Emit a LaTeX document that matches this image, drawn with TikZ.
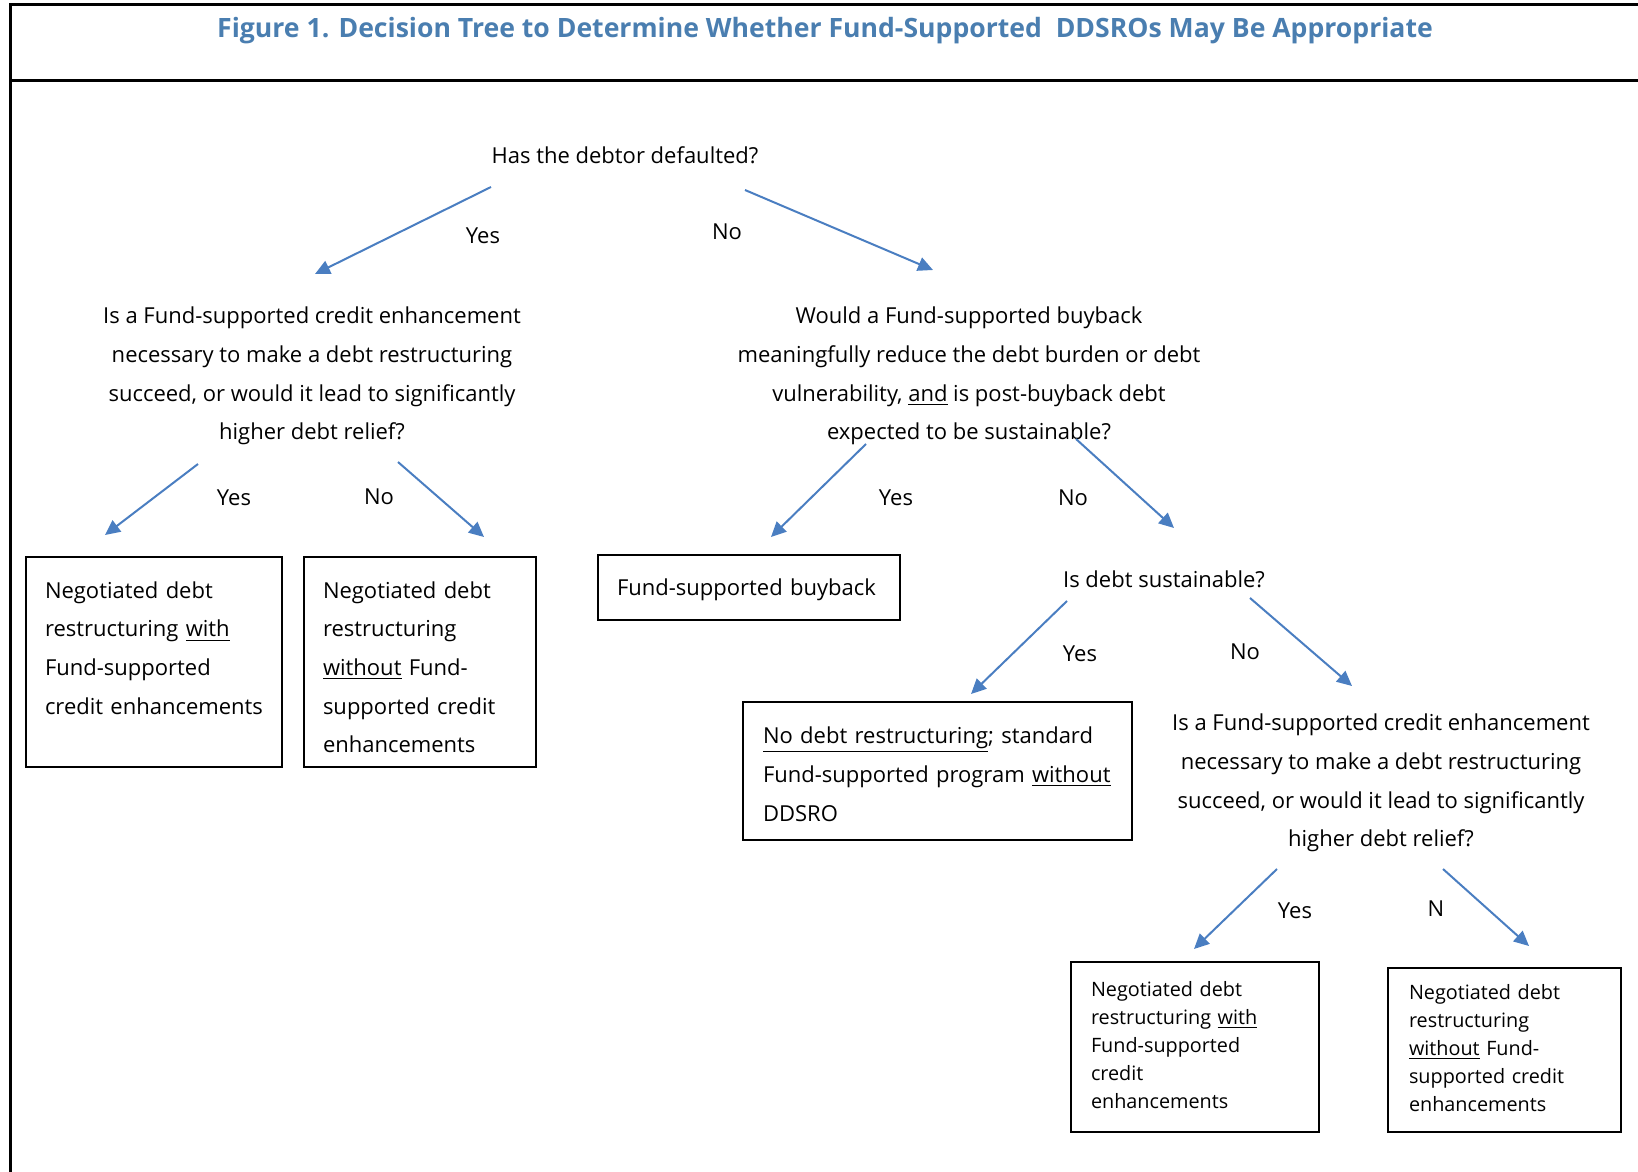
\documentclass[tikz,border=0pt]{standalone}
\usepackage{fontspec}
\setmainfont{Open Sans}
\newfontfamily\titlefont{Open Sans}
\usetikzlibrary{arrows.meta}
\definecolor{ttlblue}{RGB}{74,126,176}
\definecolor{arrblue}{RGB}{74,126,193}
\newcommand\qfont{\fontsize{11}{19.35}\selectfont}
\newcommand\sfont{\fontsize{9.9}{14.1}\selectfont}
\newcommand\padtop[1]{\rule{0pt}{#1}}
\newcommand\padbot[1]{\rule[-#1]{0pt}{0pt}}
\tikzset{
  frame/.style={line width=1.5pt},
  qtxt/.style={align=center,font=\qfont},
  optbox/.style={draw,line width=1pt,align=left,inner xsep=9.5pt,font=\qfont},
  smallbox/.style={optbox,font=\sfont,inner xsep=10pt},
  ans/.style={font=\qfont},
  arr/.style={-{Triangle[length=7.5pt,width=7pt]},line width=1pt,arrblue}
}

\begin{document}
\begin{tikzpicture}[x=0.5pt,y=-0.5pt]
  \useasboundingbox (0,0) rectangle (1638,1172);
  % frame and title
  \draw[frame] (9,5) -- (1638,5);
  \draw[frame] (9,81) -- (1638,81);
  \draw[frame] (10,4) -- (10,1172);
  \node[font=\titlefont\bfseries\fontsize{13.3}{16}\selectfont,text=ttlblue] (title) at (825,31)
    {Figure 1. Decision Tree to Determine Whether Fund-Supported\ \ DDSROs May Be Appropriate};

  % questions
  \node[qtxt] (dflt) at (625,155) {Has the debtor defaulted?};
  \node[qtxt] (cenh) at (312,376) {Is a Fund-supported credit enhancement\\necessary to make a debt restructuring\\succeed, or would it lead to significantly\\higher debt relief?};
  \node[qtxt] (bbk) at (969,376) {Would a Fund-supported buyback\\meaningfully reduce the debt burden or debt\\vulnerability, \underline{and} is post-buyback debt\\expected to be sustainable?};
  \node[qtxt] (sust) at (1164,579) {Is debt sustainable?};
  \node[qtxt] (cenhb) at (1381,783) {Is a Fund-supported credit enhancement\\necessary to make a debt restructuring\\succeed, or would it lead to significantly\\higher debt relief?};

  % outcomes
  \node[optbox,text width=109pt,minimum height=105pt] (withce) at (154,662)
    {\padtop{13.6pt}Negotiated debt\\restructuring \underline{with}\\Fund-supported\\credit enhancements\\\mbox{}};
  \node[optbox,text width=97pt,minimum height=105pt] (woce) at (420,662)
    {\padtop{13.6pt}Negotiated debt\\restructuring\\\underline{without} Fund-\\supported credit\\enhancements};
  \node[optbox,text width=132pt,minimum height=32.5pt] (buyb) at (749,587.5) {\padtop{10.4pt}Fund-supported buyback};
  \node[optbox,inner xsep=10pt,text width=174.5pt,minimum height=69pt] (nodr) at (937.5,771)
    {\padtop{11.5pt}\underline{No debt restructuring}; standard\\Fund-supported program \underline{without}\\DDSRO};
  \node[smallbox,text width=104pt,minimum height=85pt] (withceb) at (1195,1047)
    {Negotiated debt\\restructuring \underline{with}\\Fund-supported\\credit\\enhancements\padbot{2pt}};
  \node[smallbox,inner xsep=10.5pt,text width=95.5pt,minimum height=82pt] (woceb) at (1504.5,1050)
    {Negotiated debt\\restructuring\\\underline{without} Fund-\\supported credit\\enhancements\padbot{2pt}};

  % arrow ends
  \coordinate (a1s) at (491,187);  \coordinate (a1e) at (315,274);
  \coordinate (a2s) at (745,190);  \coordinate (a2e) at (933,270);
  \coordinate (a3s) at (198,464);  \coordinate (a3e) at (105,535);
  \coordinate (a4s) at (398,462);  \coordinate (a4e) at (484,537);
  \coordinate (a5s) at (866,444);  \coordinate (a5e) at (771,537);
  \coordinate (a6s) at (1076,439); \coordinate (a6e) at (1174,528);
  \coordinate (a7s) at (1067,601); \coordinate (a7e) at (971,694);
  \coordinate (a8s) at (1250,598); \coordinate (a8e) at (1352,686);
  \coordinate (a9s) at (1277,869); \coordinate (a9e) at (1194,949);
  \coordinate (a10s) at (1443,869); \coordinate (a10e) at (1529,946);

  \draw[arr] (a1s) -- (a1e);
  \draw[arr] (a2s) -- (a2e);
  \draw[arr] (a3s) -- (a3e);
  \draw[arr] (a4s) -- (a4e);
  \draw[arr] (a5s) -- (a5e);
  \draw[arr] (a6s) -- (a6e);
  \draw[arr] (a7s) -- (a7e);
  \draw[arr] (a8s) -- (a8e);
  \draw[arr] (a9s) -- (a9e);
  \draw[arr] (a10s) -- (a10e);

  % answers
  \node[ans] (y1) at (483,236) {Yes};
  \node[ans] (n1) at (727,232) {No};
  \node[ans] (y2) at (234,498) {Yes};
  \node[ans] (n2) at (379,497) {No};
  \node[ans] (y3) at (896,498) {Yes};
  \node[ans] (n3) at (1073,498) {No};
  \node[ans] (y4) at (1080,654) {Yes};
  \node[ans] (n4) at (1245,652) {No};
  \node[ans] (y5) at (1295,911) {Yes};
  \node[ans] (n5) at (1436,909) {N};
\end{tikzpicture}
\end{document}
